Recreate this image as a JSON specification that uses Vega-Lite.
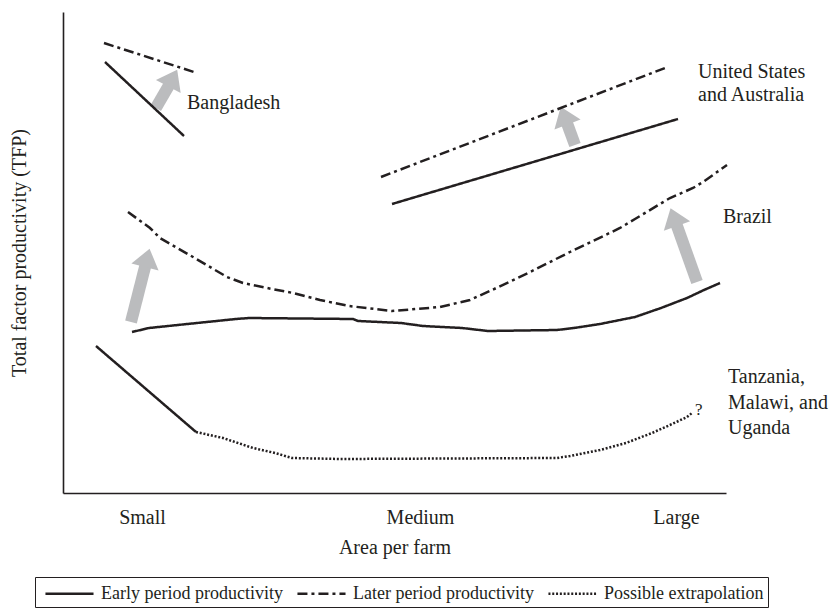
{
  "$schema": "https://vega.github.io/schema/vega-lite/v6.json",
  "width": 663,
  "height": 481,
  "autosize": {"type": "none"},
  "padding": {"left": 63, "top": 12, "right": 111, "bottom": 115},
  "background": "white",
  "config": {
    "font": "Liberation Serif",
    "view": {"stroke": null},
    "axis": {"grid": false, "ticks": false, "tickSize": 0, "domainColor": "#231f20", "domainWidth": 1.6, "labelFont": "Liberation Serif", "titleFont": "Liberation Serif", "labelColor": "#231f20", "titleColor": "#231f20", "titleFontWeight": "normal", "labelFontSize": 20, "titleFontSize": 20}
  },
  "data": {
    "values": [
      {"kind": "line", "seg": "bd1", "type": "Early period productivity", "x": 42, "y": 431, "o": 1},
      {"kind": "line", "seg": "bd1", "type": "Early period productivity", "x": 121, "y": 357, "o": 2},
      {"kind": "line", "seg": "bd2", "type": "Later period productivity", "x": 41, "y": 450, "o": 1},
      {"kind": "line", "seg": "bd2", "type": "Later period productivity", "x": 131, "y": 421, "o": 2},
      {"kind": "line", "seg": "us1", "type": "Early period productivity", "x": 329, "y": 289, "o": 1},
      {"kind": "line", "seg": "us1", "type": "Early period productivity", "x": 615, "y": 374, "o": 2},
      {"kind": "line", "seg": "us2", "type": "Later period productivity", "x": 318, "y": 316, "o": 1},
      {"kind": "line", "seg": "us2", "type": "Later period productivity", "x": 602, "y": 425, "o": 2},
      {"kind": "line", "seg": "br1", "type": "Early period productivity", "x": 69, "y": 161, "o": 1},
      {"kind": "line", "seg": "br1", "type": "Early period productivity", "x": 86, "y": 165, "o": 2},
      {"kind": "line", "seg": "br1", "type": "Early period productivity", "x": 134, "y": 170, "o": 3},
      {"kind": "line", "seg": "br1", "type": "Early period productivity", "x": 173, "y": 174, "o": 4},
      {"kind": "line", "seg": "br1", "type": "Early period productivity", "x": 186, "y": 175, "o": 5},
      {"kind": "line", "seg": "br1", "type": "Early period productivity", "x": 290, "y": 174, "o": 6},
      {"kind": "line", "seg": "br1", "type": "Early period productivity", "x": 295, "y": 172, "o": 7},
      {"kind": "line", "seg": "br1", "type": "Early period productivity", "x": 338, "y": 170, "o": 8},
      {"kind": "line", "seg": "br1", "type": "Early period productivity", "x": 360, "y": 167, "o": 9},
      {"kind": "line", "seg": "br1", "type": "Early period productivity", "x": 399, "y": 165, "o": 10},
      {"kind": "line", "seg": "br1", "type": "Early period productivity", "x": 425, "y": 162, "o": 11},
      {"kind": "line", "seg": "br1", "type": "Early period productivity", "x": 494, "y": 163, "o": 12},
      {"kind": "line", "seg": "br1", "type": "Early period productivity", "x": 511, "y": 165, "o": 13},
      {"kind": "line", "seg": "br1", "type": "Early period productivity", "x": 537, "y": 169, "o": 14},
      {"kind": "line", "seg": "br1", "type": "Early period productivity", "x": 572, "y": 176, "o": 15},
      {"kind": "line", "seg": "br1", "type": "Early period productivity", "x": 598, "y": 185, "o": 16},
      {"kind": "line", "seg": "br1", "type": "Early period productivity", "x": 624, "y": 195, "o": 17},
      {"kind": "line", "seg": "br1", "type": "Early period productivity", "x": 641, "y": 203, "o": 18},
      {"kind": "line", "seg": "br1", "type": "Early period productivity", "x": 657, "y": 210, "o": 19},
      {"kind": "line", "seg": "br2", "type": "Later period productivity", "x": 65, "y": 281, "o": 1},
      {"kind": "line", "seg": "br2", "type": "Later period productivity", "x": 87, "y": 265, "o": 2},
      {"kind": "line", "seg": "br2", "type": "Later period productivity", "x": 97, "y": 255, "o": 3},
      {"kind": "line", "seg": "br2", "type": "Later period productivity", "x": 130, "y": 236, "o": 4},
      {"kind": "line", "seg": "br2", "type": "Later period productivity", "x": 164, "y": 216, "o": 5},
      {"kind": "line", "seg": "br2", "type": "Later period productivity", "x": 180, "y": 210, "o": 6},
      {"kind": "line", "seg": "br2", "type": "Later period productivity", "x": 204, "y": 205, "o": 7},
      {"kind": "line", "seg": "br2", "type": "Later period productivity", "x": 230, "y": 200, "o": 8},
      {"kind": "line", "seg": "br2", "type": "Later period productivity", "x": 257, "y": 193, "o": 9},
      {"kind": "line", "seg": "br2", "type": "Later period productivity", "x": 286, "y": 187, "o": 10},
      {"kind": "line", "seg": "br2", "type": "Later period productivity", "x": 329, "y": 182, "o": 11},
      {"kind": "line", "seg": "br2", "type": "Later period productivity", "x": 377, "y": 186, "o": 12},
      {"kind": "line", "seg": "br2", "type": "Later period productivity", "x": 407, "y": 193, "o": 13},
      {"kind": "line", "seg": "br2", "type": "Later period productivity", "x": 429, "y": 203, "o": 14},
      {"kind": "line", "seg": "br2", "type": "Later period productivity", "x": 446, "y": 211, "o": 15},
      {"kind": "line", "seg": "br2", "type": "Later period productivity", "x": 467, "y": 221, "o": 16},
      {"kind": "line", "seg": "br2", "type": "Later period productivity", "x": 507, "y": 241, "o": 17},
      {"kind": "line", "seg": "br2", "type": "Later period productivity", "x": 557, "y": 265, "o": 18},
      {"kind": "line", "seg": "br2", "type": "Later period productivity", "x": 572, "y": 274, "o": 19},
      {"kind": "line", "seg": "br2", "type": "Later period productivity", "x": 607, "y": 295, "o": 20},
      {"kind": "line", "seg": "br2", "type": "Later period productivity", "x": 630, "y": 305, "o": 21},
      {"kind": "line", "seg": "br2", "type": "Later period productivity", "x": 640, "y": 311, "o": 22},
      {"kind": "line", "seg": "br2", "type": "Later period productivity", "x": 664, "y": 328, "o": 23},
      {"kind": "line", "seg": "tz1", "type": "Early period productivity", "x": 33, "y": 147, "o": 1},
      {"kind": "line", "seg": "tz1", "type": "Early period productivity", "x": 133, "y": 61, "o": 2},
      {"kind": "line", "seg": "tz2", "type": "Possible extrapolation", "x": 133, "y": 61, "o": 1},
      {"kind": "line", "seg": "tz2", "type": "Possible extrapolation", "x": 160, "y": 55, "o": 2},
      {"kind": "line", "seg": "tz2", "type": "Possible extrapolation", "x": 190, "y": 45, "o": 3},
      {"kind": "line", "seg": "tz2", "type": "Possible extrapolation", "x": 212, "y": 40, "o": 4},
      {"kind": "line", "seg": "tz2", "type": "Possible extrapolation", "x": 229, "y": 35, "o": 5},
      {"kind": "line", "seg": "tz2", "type": "Possible extrapolation", "x": 277, "y": 34, "o": 6},
      {"kind": "line", "seg": "tz2", "type": "Possible extrapolation", "x": 494, "y": 35, "o": 7},
      {"kind": "line", "seg": "tz2", "type": "Possible extrapolation", "x": 507, "y": 37, "o": 8},
      {"kind": "line", "seg": "tz2", "type": "Possible extrapolation", "x": 537, "y": 43, "o": 9},
      {"kind": "line", "seg": "tz2", "type": "Possible extrapolation", "x": 563, "y": 50, "o": 10},
      {"kind": "line", "seg": "tz2", "type": "Possible extrapolation", "x": 589, "y": 60, "o": 11},
      {"kind": "line", "seg": "tz2", "type": "Possible extrapolation", "x": 607, "y": 68, "o": 12},
      {"kind": "line", "seg": "tz2", "type": "Possible extrapolation", "x": 624, "y": 76, "o": 13},
      {"kind": "line", "seg": "tz2", "type": "Possible extrapolation", "x": 629, "y": 80, "o": 14},
      {"kind": "shaft", "x": 92.8, "y": 385, "x2": 106.3, "y2": 408.2},
      {"kind": "shaft", "x": 512, "y": 348, "x2": 503.8, "y2": 370.4},
      {"kind": "shaft", "x": 68, "y": 171, "x2": 82.5, "y2": 228},
      {"kind": "shaft", "x": 634, "y": 211, "x2": 613.3, "y2": 269},
      {"kind": "head", "x": 105.3, "y": 406.5, "ang": 28},
      {"kind": "head", "x": 504.5, "y": 368.5, "ang": -21},
      {"kind": "head", "x": 82, "y": 226, "ang": 14},
      {"kind": "head", "x": 614, "y": 267, "ang": -20},
      {"kind": "label", "text": "Bangladesh", "x": 124, "y": 390},
      {"kind": "label", "text": "United States", "x": 635, "y": 421},
      {"kind": "label", "text": "and Australia", "x": 635, "y": 398},
      {"kind": "label", "text": "Brazil", "x": 660, "y": 276},
      {"kind": "label", "text": "Tanzania,", "x": 665, "y": 116},
      {"kind": "label", "text": "Malawi, and", "x": 665, "y": 90},
      {"kind": "label", "text": "Uganda", "x": 665, "y": 65},
      {"kind": "label", "text": "?", "x": 632, "y": 83}
    ]
  },
  "encoding": {
    "x": {
      "field": "x", "type": "quantitative",
      "scale": {"domain": [0, 663], "nice": false, "zero": false},
      "axis": {"title": "Area per farm", "values": [79, 357, 613], "labelExpr": "datum.value < 200 ? 'Small' : datum.value < 500 ? 'Medium' : 'Large'", "labelPadding": 14, "titlePadding": 10, "labelFlush": false, "labelOverlap": false}
    },
    "y": {
      "field": "y", "type": "quantitative",
      "scale": {"domain": [0, 481], "nice": false, "zero": false},
      "axis": {"title": "Total factor productivity (TFP)", "labels": false, "titlePadding": 34}
    }
  },
  "layer": [
    {
      "transform": [{"filter": "datum.kind === 'shaft'"}],
      "mark": {"type": "rule", "color": "#bbbcbe", "strokeWidth": 12, "strokeCap": "butt"},
      "encoding": {"x2": {"field": "x2"}, "y2": {"field": "y2"}}
    },
    {
      "transform": [{"filter": "datum.kind === 'head'"}],
      "mark": {"type": "point", "shape": "M -1 0 L 1 0 L 0 -1.35 Z", "size": 784, "filled": true, "color": "#bbbcbe", "opacity": 1, "strokeWidth": 0},
      "encoding": {"angle": {"field": "ang", "type": "quantitative", "scale": null}}
    },
    {
      "transform": [{"filter": "datum.kind === 'line'"}],
      "mark": {"type": "line", "color": "#231f20", "strokeWidth": 2.5},
      "encoding": {
        "detail": {"field": "seg"},
        "order": {"field": "o", "type": "quantitative"},
        "strokeDash": {
          "field": "type", "type": "nominal",
          "scale": {"domain": ["Early period productivity", "Later period productivity", "Possible extrapolation"], "range": [[1, 0], [10, 4, 3, 4], [2, 1.8]]},
          "legend": {"title": null, "orient": "none", "legendX": -28, "legendY": 565, "direction": "horizontal", "strokeColor": "#231f20", "padding": 4, "labelFont": "Liberation Serif", "labelFontSize": 18, "labelColor": "#231f20", "symbolType": "M -0.55 0 L 3.82 0", "symbolSize": 484, "symbolStrokeWidth": 2.5, "symbolStrokeColor": "#231f20", "symbolFillColor": "transparent", "labelOffset": 37, "columnPadding": 8, "labelLimit": 0}
        }
      }
    },
    {
      "transform": [{"filter": "datum.kind === 'label'"}],
      "mark": {"type": "text", "align": "left", "baseline": "middle", "font": "Liberation Serif", "color": "#231f20"},
      "encoding": {
        "text": {"field": "text"},
        "size": {"condition": {"test": "datum.text === '?'", "value": 17}, "value": 20}
      }
    }
  ]
}
